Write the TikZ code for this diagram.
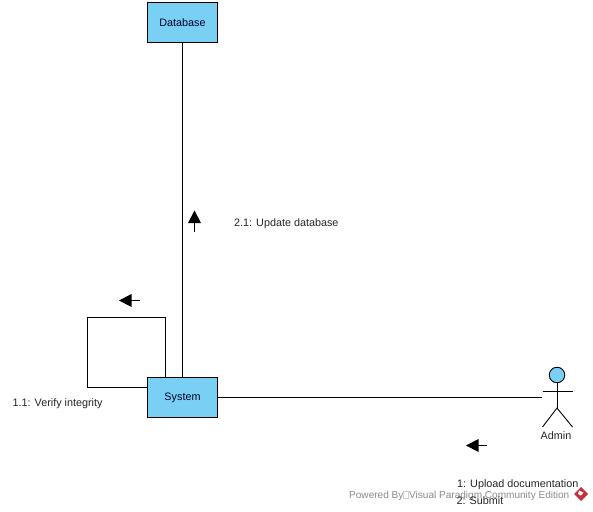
\documentclass[tikz,border=0pt]{standalone}
\usepackage{fontspec}
\setmainfont{Liberation Sans}
\definecolor{boxblue}{HTML}{7ACFF5}
\definecolor{wmgrey}{HTML}{8C8C8C}
\definecolor{wmred}{HTML}{C8303A}
\tikzset{
  objbox/.style={draw=black,fill=boxblue,line width=1pt,minimum width=70pt,minimum height=40pt,inner sep=0pt,font=\fontsize{10.8}{12}\selectfont,text=black!85!blue},
  conn/.style={draw=black,line width=0.9pt},
  msg/.style={anchor=base west,inner sep=0pt,font=\fontsize{10.8}{12}\selectfont,text=black!85},
  wm/.style={anchor=base west,inner sep=0pt,font=\fontsize{10.05}{12}\selectfont,text=wmgrey},
  tri/.style={fill=black,draw=none}
}
\begin{document}
\begin{tikzpicture}[x=1pt,y=-1pt]
\useasboundingbox (0,0) rectangle (593,511);
\fill[white] (0,0) rectangle (593,511);
% objects
\node[objbox] (db) at (182.5,22.5) {Database};
\node[objbox] (sys) at (182.5,397.5) {System};
% actor
\node[circle,draw=black,fill=boxblue,line width=0.9pt,minimum size=15.5pt,inner sep=0pt] (head) at (557,375) {};
\coordinate (hip) at (557,408);
\coordinate (armL) at (542.5,391.5);
\coordinate (armR) at (572.5,391.5);
\coordinate (legL) at (542.5,427);
\coordinate (legR) at (572.5,427);
\coordinate (actorEnd) at (541.5,397.5);
\draw[conn] (head.south) -- (hip);
\draw[conn] (armL) -- (armR);
\draw[conn] (legL) -- (hip) -- (legR);
\node[inner sep=0pt,font=\fontsize{10.8}{12}\selectfont,text=black!85] (admin) at (556,435.5) {Admin};
% connectors
\draw[conn] (db.south) -- (sys.north);
\draw[conn] (sys.east) -- (actorEnd);
\coordinate (loopA) at (87.5,387.5);
\coordinate (loopB) at (87.5,317.5);
\coordinate (loopC) at (165.5,317.5);
\draw[conn] (sys.west |- loopA) -- (loopA) -- (loopB) -- (loopC) -- (loopC |- sys.north);
% message arrows
\coordinate (a1) at (466,445.5);
\coordinate (a2) at (119,300.5);
\coordinate (a3) at (194.5,210.5);
\fill[tri] (a1) -- ++(12.5,-6.5) -- ++(0,13) -- cycle;
\draw[conn] (a1) ++(12,0) -- ++(9,0);
\fill[tri] (a2) -- ++(12.5,-6.5) -- ++(0,13) -- cycle;
\draw[conn] (a2) ++(12,0) -- ++(9,0);
\fill[tri] (a3) -- ++(-6.5,12.5) -- ++(13,0) -- cycle;
\draw[conn] (a3) ++(0,12) -- ++(0,9);
% labels
\node[msg] (m21) at (234,226) {2.1: Update database};
\node[msg] (m11) at (12.5,406) {1.1: Verify integrity};
% watermark
\node[wm] (wm1) at (349,498.5) {Powered By};
\draw[black!18,line width=0.5pt] (403.5,491) rectangle (408,498);
\node[wm] (wm2) at (409,498.5) {Visual Paradigm Community Edition};
\node[msg] (m1) at (457,487) {1: Upload documentation};
\node[msg] (m2) at (456.5,504) {2: Submit};
\fill[wmred] (581,487) -- (588,494) -- (581,501) -- (574,494) -- cycle;
\fill[white] (579,490.5) -- (583.5,492.5) -- (581,495.5) -- (578,494) -- cycle;
\end{tikzpicture}
\end{document}
